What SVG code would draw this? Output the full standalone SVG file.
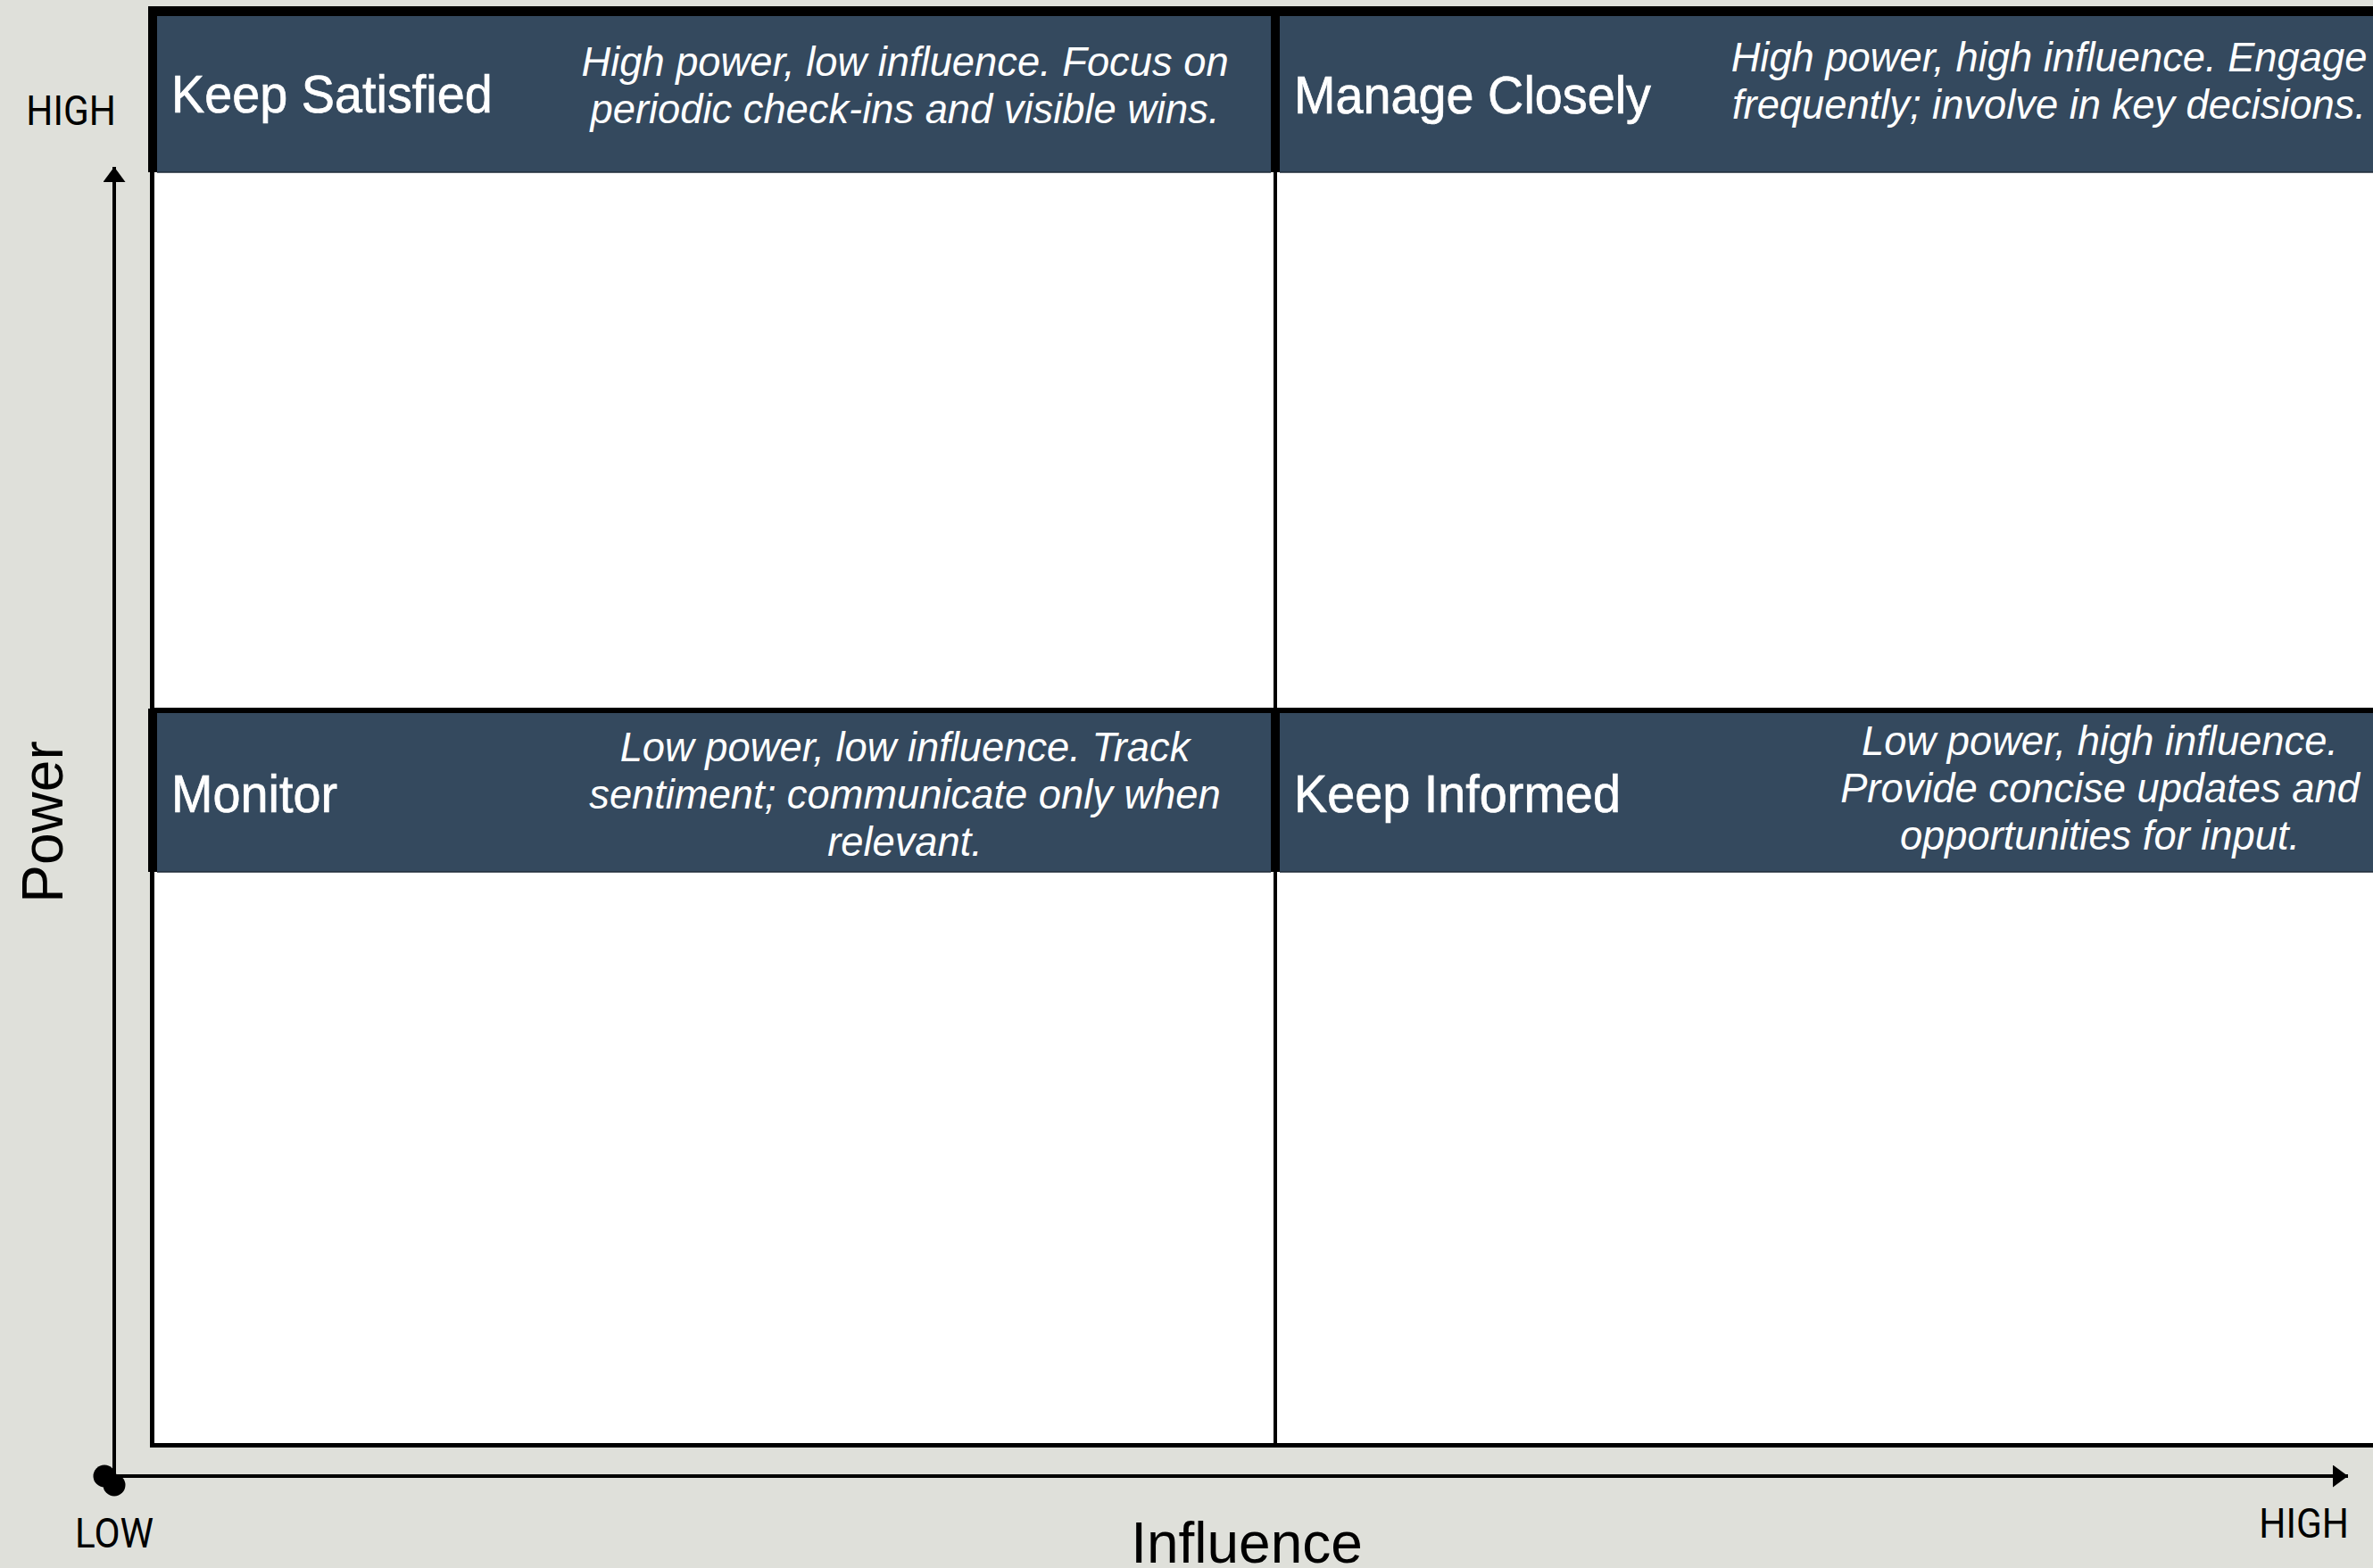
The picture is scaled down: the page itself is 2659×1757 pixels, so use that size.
<svg xmlns="http://www.w3.org/2000/svg" width="2659" height="1757" viewBox="0 0 2659 1757">
<style>
.bg{fill:#dfe0da}
.body{fill:#ffffff}
.band{fill:#000000}
.hdr{fill:#34495e}
.hline{stroke:#1f2b38;stroke-width:1.5}
.grid{stroke:#000;fill:none}
.title{font-family:"Liberation Sans",Arial,sans-serif;font-size:60px;fill:#ffffff;stroke:#ffffff;stroke-width:0.7}
.desc{font-family:"Liberation Sans",Arial,sans-serif;font-size:45.3px;font-style:italic;fill:#ffffff;text-anchor:middle}
.lbl{font-family:Roboto,"Liberation Sans",sans-serif;font-size:46px;fill:#000}
.axt{font-family:"Liberation Sans",Arial,sans-serif;font-size:64px;fill:#000;text-anchor:middle}
.axis{stroke:#000;stroke-width:4;fill:none}
</style>
<defs>
<marker id="arrow" viewBox="0 0 17 25" refX="17" refY="12.5" markerWidth="17" markerHeight="25" orient="auto" markerUnits="userSpaceOnUse"><path d="M0,0 L17,12.5 L0,25 Z" fill="#000"/></marker>
<marker id="dot" viewBox="0 0 26 26" refX="13" refY="13" markerWidth="26" markerHeight="26" orient="auto" markerUnits="userSpaceOnUse"><circle cx="13" cy="13" r="12.5" fill="#000"/></marker>
</defs>
<rect class="bg" x="0" y="0" width="2659" height="1757"/>
<rect class="body" x="170" y="12" width="2500" height="1607"/>
<g id="grid">
<line class="grid" x1="170.5" y1="7" x2="170.5" y2="1622" stroke-width="5"/>
<line class="grid" x1="168" y1="1619.5" x2="2659" y2="1619.5" stroke-width="5"/>
<line class="grid" x1="1429" y1="7" x2="1429" y2="1622" stroke-width="4"/>
<line class="grid" x1="168" y1="795" x2="2659" y2="795" stroke-width="4"/>
</g>
<g id="q-keep-satisfied">
<rect class="band" x="166" y="7" width="1268" height="186"/>
<rect class="hdr" x="176" y="18" width="1248" height="175"/>
<line class="hline" x1="176" y1="193" x2="1424" y2="193"/>
<text class="title" transform="translate(192,126) scale(0.93,1)">Keep Satisfied</text>
<text class="desc" x="1014" y="85">High power, low influence. Focus on</text>
<text class="desc" x="1014" y="138">periodic check-ins and visible wins.</text>
</g>
<g id="q-manage-closely">
<rect class="band" x="1424" y="7" width="1240" height="186"/>
<rect class="hdr" x="1434" y="18" width="1230" height="175"/>
<line class="hline" x1="1434" y1="193" x2="2659" y2="193"/>
<text class="title" transform="translate(1450,127) scale(0.93,1)">Manage Closely</text>
<text class="desc" x="2296" y="80">High power, high influence. Engage</text>
<text class="desc" x="2296" y="133">frequently; involve in key decisions.</text>
</g>
<g id="q-monitor">
<rect class="band" x="166" y="794" width="1268" height="183"/>
<rect class="hdr" x="176" y="799" width="1248" height="178"/>
<line class="hline" x1="176" y1="977" x2="1424" y2="977"/>
<text class="title" transform="translate(192,910) scale(0.93,1)">Monitor</text>
<text class="desc" x="1014" y="853">Low power, low influence. Track</text>
<text class="desc" x="1014" y="906">sentiment; communicate only when</text>
<text class="desc" x="1014" y="959">relevant.</text>
</g>
<g id="q-keep-informed">
<rect class="band" x="1424" y="794" width="1240" height="183"/>
<rect class="hdr" x="1434" y="799" width="1230" height="178"/>
<line class="hline" x1="1434" y1="977" x2="2659" y2="977"/>
<text class="title" transform="translate(1450,910) scale(0.93,1)">Keep Informed</text>
<text class="desc" x="2353" y="846">Low power, high influence.</text>
<text class="desc" x="2353" y="899">Provide concise updates and</text>
<text class="desc" x="2353" y="952">opportunities for input.</text>
</g>
<g id="axes">
<line class="axis" x1="128" y1="1664" x2="128" y2="187" marker-start="url(#dot)" marker-end="url(#arrow)"/>
<line class="axis" x1="117" y1="1654" x2="2631" y2="1654" marker-start="url(#dot)" marker-end="url(#arrow)"/>
</g>
<g id="labels">
<text class="lbl" transform="translate(130,140) scale(0.92,1)" text-anchor="end">HIGH</text>
<text class="lbl" transform="translate(128,1734) scale(0.92,1)" text-anchor="middle">LOW</text>
<text class="lbl" transform="translate(2632,1723) scale(0.92,1)" text-anchor="end">HIGH</text>
<text class="axt" x="1397" y="1751">Influence</text>
<text class="axt" transform="translate(70,921) rotate(-90)">Power</text>
</g>
</svg>
